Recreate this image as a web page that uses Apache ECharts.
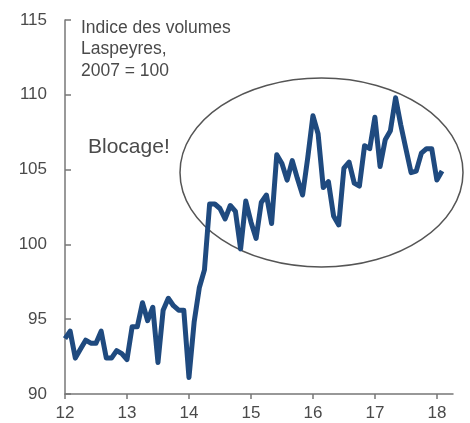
<!DOCTYPE html>
<html>
<head>
<meta charset="utf-8">
<script src="https://cdn.jsdelivr.net/npm/echarts@6/dist/echarts.min.js"></script>
<style>
  html, body { margin: 0; padding: 0; background: #fff; }
  #container { width: 470px; height: 423px; }
</style>
</head>
<body>
<div id="container"></div>
<script>
    // indice mensuel, janvier 2012 -> fevrier 2018
    var startYear = 12;
    var values = [
        93.7, 94.2, 92.4, 93.0, 93.6, 93.4, 93.4, 94.2, 92.4, 92.4, 92.9, 92.7,   // 2012
        92.3, 94.5, 94.5, 96.1, 94.9, 95.8, 92.1, 95.6, 96.4, 95.9, 95.6, 95.6,   // 2013
        91.1, 94.8, 97.1, 98.3, 102.7, 102.7, 102.4, 101.7, 102.6, 102.2, 99.7, 102.9, // 2014
        101.5, 100.4, 102.8, 103.3, 101.4, 106.0, 105.4, 104.3, 105.6, 104.4, 103.3, 105.8, // 2015
        108.6, 107.4, 103.8, 104.2, 101.9, 101.3, 105.1, 105.5, 104.1, 103.9, 106.6, 106.4, // 2016
        108.5, 105.2, 107.0, 107.6, 109.8, 108.0, 106.4, 104.8, 104.9, 106.1, 106.4, 106.4, // 2017
        104.3, 104.9                                                                   // 2018
    ];
    var xTicks = [12, 13, 14, 15, 16, 17, 18];
    var noteLines = ["Indice des volumes", "Laspeyres,", "2007 = 100"];
    var bubbleText = "Blocage!";

    var points = [];
    for (var i = 0; i < values.length; i++) {
        points.push([startYear + i / 12, values[i]]);
    }

    var myChart = echarts.init(document.getElementById("container"));
    myChart.setOption({
        animation: false,
        grid: { left: 65, right: 17, top: 20, bottom: 29 },
        xAxis: {
            type: 'value',
            min: 12,
            max: 18.26,
            splitLine: { show: false },
            axisLine: { lineStyle: { color: '#777', width: 1.5 } },
            axisTick: { inside: false, length: 5, customValues: xTicks, lineStyle: { color: '#777', width: 1.5 } },
            axisLabel: { customValues: xTicks, color: '#4a4a4a', fontSize: 17, fontFamily: 'Liberation Sans, Arial', margin: 11 }
        },
        yAxis: {
            type: 'value',
            min: 90,
            max: 115,
            interval: 5,
            splitLine: { show: false },
            axisLine: { show: true, lineStyle: { color: '#777', width: 1.5 } },
            axisTick: { show: true, inside: true, length: 6, lineStyle: { color: '#777', width: 1.5 } },
            axisLabel: { color: '#4a4a4a', fontSize: 17, fontFamily: 'Liberation Sans, Arial', margin: 18 }
        },
        graphic: [
            {
                type: 'ellipse',
                shape: { cx: 321.5, cy: 172.5, rx: 141.5, ry: 94.5 },
                style: { fill: 'none', stroke: '#555', lineWidth: 1.5 },
                z: 1
            },
            {
                type: 'text',
                left: 81,
                top: 17,
                style: {
                    text: noteLines.join('\n'),
                    fill: '#4a4a4a',
                    font: '17.5px "Liberation Sans", Arial',
                    lineHeight: 21.5
                }
            },
            {
                type: 'text',
                left: 88,
                top: 137,
                style: {
                    text: bubbleText,
                    fill: '#4a4a4a',
                    font: '21px "Liberation Sans", Arial'
                }
            }
        ],
        series: [{
            type: 'line',
            data: points,
            showSymbol: false,
            z: 5,
            lineStyle: { color: '#1f4a7f', width: 5, join: 'round' }
        }]
    });
</script>
</body>
</html>
